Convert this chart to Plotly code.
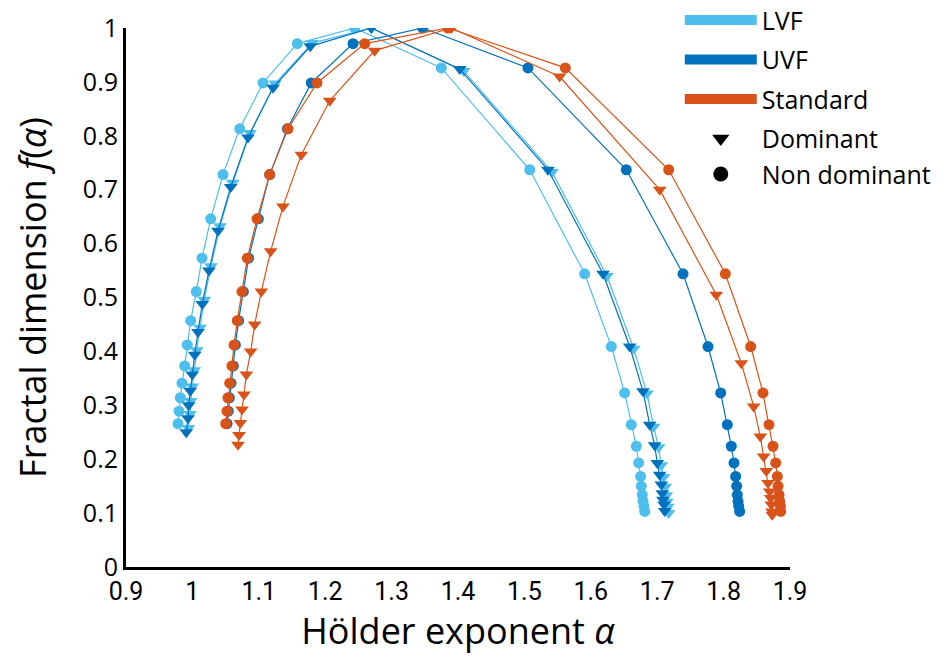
import plotly.graph_objects as go

# Multifractal spectra f(alpha)
LVF_ND_X = [0.9783, 0.9798, 0.9818, 0.9843, 0.9884, 0.9923, 0.9974, 1.0059, 1.0145, 1.0276,
            1.0461, 1.0712, 1.1063, 1.158, 1.2444, 1.3749, 1.508, 1.5908, 1.6309, 1.651,
            1.661, 1.6686, 1.672, 1.675, 1.676, 1.6776, 1.6786, 1.680, 1.6812]
LVF_ND_Y = [0.266, 0.289, 0.314, 0.341, 0.373, 0.412, 0.457, 0.511, 0.573, 0.646,
            0.728, 0.813, 0.898, 0.971, 1.0, 0.926, 0.737, 0.544, 0.409, 0.323,
            0.264, 0.224, 0.193, 0.168, 0.150, 0.134, 0.122, 0.113, 0.103]

LVF_D_X = [0.9938, 0.9964, 0.9974, 0.9998, 1.0028, 1.0065, 1.0114, 1.0179, 1.028, 1.0416,
           1.0607, 1.0867, 1.1244, 1.1806, 1.2694, 1.4086, 1.5415, 1.6244, 1.6646, 1.6846,
           1.6947, 1.7022, 1.7061, 1.7097, 1.7122, 1.7137, 1.7147, 1.7162, 1.7173]
LVF_D_Y = [0.258, 0.284, 0.308, 0.335, 0.365, 0.402, 0.444, 0.496, 0.558, 0.632,
           0.713, 0.805, 0.897, 0.972, 1.0, 0.920, 0.733, 0.540, 0.405, 0.322,
           0.260, 0.222, 0.189, 0.167, 0.149, 0.133, 0.121, 0.112, 0.100]

UVF_D_X = [0.9908, 0.9934, 0.9944, 0.9968, 0.9998, 1.0035, 1.0084, 1.0149, 1.025, 1.0386,
           1.0577, 1.0837, 1.1214, 1.1776, 1.2694, 1.4026, 1.5355, 1.6184, 1.6586, 1.6786,
           1.6887, 1.6962, 1.7001, 1.7037, 1.7062, 1.7077, 1.7087, 1.7102, 1.7113]
UVF_D_Y = [0.250, 0.276, 0.300, 0.327, 0.357, 0.394, 0.436, 0.488, 0.550, 0.624,
           0.705, 0.797, 0.889, 0.966, 1.0, 0.924, 0.737, 0.544, 0.409, 0.326,
           0.264, 0.226, 0.193, 0.171, 0.153, 0.137, 0.125, 0.116, 0.104]

UVF_ND_X = [1.0522, 1.0541, 1.0556, 1.0582, 1.0616, 1.0647, 1.0696, 1.0767, 1.0847, 1.0993,
            1.1164, 1.143, 1.179, 1.2419, 1.347, 1.5054, 1.6535, 1.7389, 1.7765, 1.7956,
            1.8056, 1.8116, 1.8157, 1.8182, 1.8197, 1.8206, 1.8217, 1.8227, 1.8242]
UVF_ND_Y = LVF_ND_Y

STD_ND_X = [1.0502, 1.0521, 1.0536, 1.0562, 1.0596, 1.0627, 1.0676, 1.0747, 1.0827, 1.0973,
            1.1164, 1.144, 1.1877, 1.2595, 1.3849, 1.5616, 1.7173, 1.8026, 1.8408, 1.8593,
            1.8684, 1.8744, 1.8785, 1.8809, 1.882, 1.8835, 1.8845, 1.8855, 1.886]
STD_ND_Y = LVF_ND_Y

STD_D_X = [1.0687, 1.0702, 1.0722, 1.0747, 1.0777, 1.0812, 1.0878, 1.0938, 1.1038, 1.1179,
           1.1364, 1.164, 1.2068, 1.2745, 1.39, 1.553, 1.7038, 1.789, 1.8267, 1.8453,
           1.8553, 1.8603, 1.8643, 1.8669, 1.8694, 1.8709, 1.8718, 1.8729, 1.8733]
STD_D_Y = [0.227, 0.245, 0.267, 0.292, 0.320, 0.357, 0.400, 0.450, 0.511, 0.586,
           0.669, 0.765, 0.865, 0.958, 1.0, 0.910, 0.700, 0.505, 0.378, 0.298,
           0.242, 0.205, 0.178, 0.156, 0.140, 0.128, 0.116, 0.103, 0.097]

X_TICKS = [0.9, 1.0, 1.1, 1.2, 1.3, 1.4, 1.5, 1.6, 1.7, 1.8, 1.9]
X_LABELS = ['0.9', '1', '1.1', '1.2', '1.3', '1.4', '1.5', '1.6', '1.7', '1.8', '1.9']
Y_TICKS = [0, 0.1, 0.2, 0.3, 0.4, 0.5, 0.6, 0.7, 0.8, 0.9, 1]
Y_LABELS = ['0', '0.1', '0.2', '0.3', '0.4', '0.5', '0.6', '0.7', '0.8', '0.9', '1']

LIGHT_BLUE = '#4DBEEE'
DARK_BLUE = '#0072BD'
ORANGE = '#D95319'
FONT = 'Open Sans'
NARROW = 'Liberation Sans Narrow, Roboto'

fig = go.Figure()

series = [
    (LVF_D_X, LVF_D_Y, LIGHT_BLUE, 'triangle-down'),
    (LVF_ND_X, LVF_ND_Y, LIGHT_BLUE, 'circle'),
    (UVF_D_X, UVF_D_Y, DARK_BLUE, 'triangle-down'),
    (UVF_ND_X, UVF_ND_Y, DARK_BLUE, 'circle'),
    (STD_D_X, STD_D_Y, ORANGE, 'triangle-down'),
    (STD_ND_X, STD_ND_Y, ORANGE, 'circle'),
]
for xs, ys, color, symbol in series:
    size = 12 if symbol == 'triangle-down' else 11
    fig.add_trace(go.Scatter(
        x=xs, y=ys, mode='lines+markers', showlegend=False,
        line=dict(color=color, width=1.2),
        marker=dict(symbol=symbol, size=size, color=color, line=dict(width=0)),
    ))

# legend-only entries (colour lines, then marker shapes in black)
for name, color in [('LVF', LIGHT_BLUE), ('UVF', DARK_BLUE), ('Standard', ORANGE)]:
    fig.add_trace(go.Scatter(x=[None], y=[None], mode='lines', name=name,
                             legendgroup=name, line=dict(color=color, width=10)))
for name, symbol in [('Dominant', 'triangle-down'), ('Non dominant', 'circle')]:
    fig.add_trace(go.Scatter(x=[None], y=[None], mode='markers', name=name,
                             legendgroup='shape',
                             marker=dict(symbol=symbol, size=15, color='black')))

fig.update_layout(
    template='none',
    width=950, height=663,
    margin=dict(l=118, r=168, t=20, b=104, autoexpand=False),
    plot_bgcolor='white', paper_bgcolor='white',
    font=dict(family=FONT, color='black'),
    legend=dict(x=0.834, y=1.057, xanchor='left', yanchor='top',
                font=dict(size=25, family=FONT), itemwidth=72,
                tracegroupgap=4, bgcolor='rgba(0,0,0,0)'),
)
fig.update_xaxes(
    range=[0.9, 1.9], tickvals=X_TICKS, ticktext=X_LABELS,
    showline=True, linewidth=3, linecolor='black', showgrid=False, zeroline=False,
    ticks='', tickfont=dict(size=25, family=NARROW), automargin=False,
    title=dict(text='Hölder exponent <i>α</i>', font=dict(size=36), standoff=12),
)
fig.update_yaxes(
    range=[0, 1], tickvals=Y_TICKS, ticktext=Y_LABELS,
    showline=True, linewidth=3, linecolor='black', showgrid=False, zeroline=False,
    ticks='', tickfont=dict(size=25), automargin=False,
    title=dict(text='Fractal dimension <i>f</i>(<i>α</i>)', font=dict(size=36), standoff=46),
)

fig.write_html("out.html")
